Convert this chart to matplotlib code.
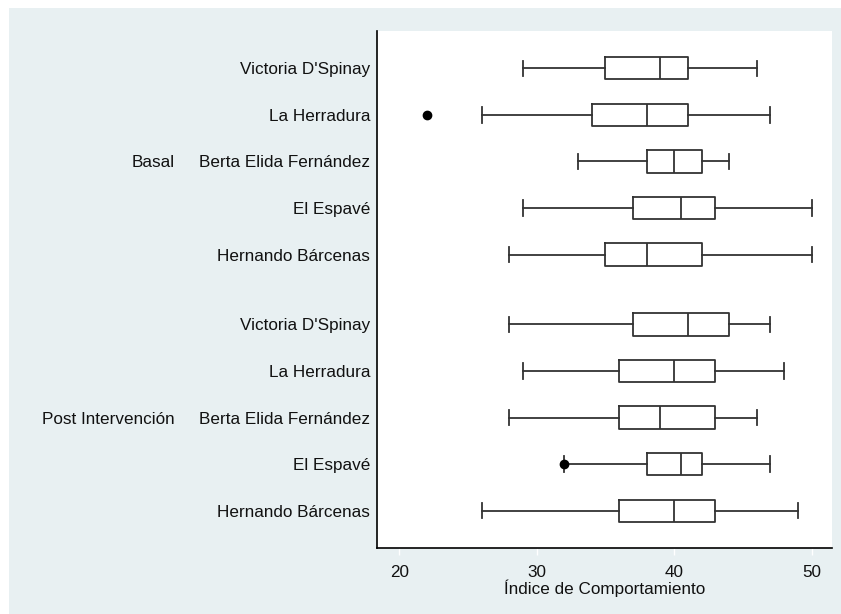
import matplotlib
matplotlib.use("Agg")
import matplotlib.pyplot as plt
from matplotlib.patches import Rectangle
from matplotlib.transforms import blended_transform_factory

plt.rcParams['font.family'] = ['Liberation Sans', 'DejaVu Sans']

groups = ["Basal", "Post Intervención"]
schools = ["Victoria D'Spinay", "La Herradura", "Berta Elida Fernández", "El Espavé", "Hernando Bárcenas"]

# per group, per school: whisker low, q1, median, q3, whisker high
basal_wlo = [29, 26, 33, 29, 28]
basal_q1 = [35, 34, 38, 37, 35]
basal_med = [39, 38, 40, 40.5, 38]
basal_q3 = [41, 41, 42, 43, 42]
basal_whi = [46, 47, 44, 50, 50]
basal_out = [[], [22], [], [], []]

post_wlo = [28, 29, 28, 32, 26]
post_q1 = [37, 36, 36, 38, 36]
post_med = [41, 40, 39, 40.5, 40]
post_q3 = [44, 43, 43, 42, 43]
post_whi = [47, 48, 46, 47, 49]
post_out = [[], [], [], [32], []]

xticks = [20, 30, 40, 50]
xlabel = "Índice de Comportamiento"

FS = 12.3
W, H = 841, 614
fig = plt.figure(figsize=(W / 100, H / 100), dpi=100)
fig.patch.set_facecolor("white")
bgc = "#E8F0F2"
fig.add_artist(Rectangle((9 / W, 0), 1 - 9 / W, (H - 8) / H, transform=fig.transFigure,
                         facecolor=bgc, edgecolor="none", zorder=0))
fig.text(80 / W, 1 + 8 / H, "y", fontsize=FS, ha="center", va="baseline", color="#111")

ax = fig.add_axes([377 / W, (H - 548) / H, (832 - 377) / W, (548 - 31) / H])
ax.set_facecolor("white")

stats = []
positions = []
labels = []
for gi, (wlo, q1, med, q3, whi, out) in enumerate([
        (basal_wlo, basal_q1, basal_med, basal_q3, basal_whi, basal_out),
        (post_wlo, post_q1, post_med, post_q3, post_whi, post_out)]):
    for si in range(len(schools)):
        stats.append(dict(whislo=wlo[si], q1=q1[si], med=med[si], q3=q3[si],
                          whishi=whi[si], fliers=out[si]))
        positions.append(gi * 5.5 + si)
        labels.append(schools[si])

lc = "#333333"
ax.bxp(stats, positions=positions, orientation="horizontal", widths=0.48,
       showfliers=True, capwidths=0.33,
       boxprops=dict(color=lc, linewidth=1.3),
       medianprops=dict(color=lc, linewidth=1.3),
       whiskerprops=dict(color=lc, linewidth=1.3),
       capprops=dict(color=lc, linewidth=1.3),
       flierprops=dict(marker="o", markerfacecolor="black", markeredgecolor="black",
                       markersize=6))

ax.set_ylim(10.3, -0.8)
ax.set_xlim(20 - (399.3 - 377) / 13.74, 20 + (832 - 399.3) / 13.74)
ax.set_yticks(positions)
ax.set_yticklabels(labels, fontsize=FS, color="#111")
for t in ax.get_yticklabels():
    t.set_verticalalignment("center_baseline")
ax.tick_params(axis="y", length=0, pad=5)
ax.set_xticks(xticks)
ax.set_xticklabels([str(t) for t in xticks], fontsize=FS, color="#111")
ax.tick_params(axis="x", length=5, width=1, color="white", pad=7)
ax.set_xlabel(xlabel, fontsize=FS, color="#111", labelpad=0)

for s in ["top", "right"]:
    ax.spines[s].set_visible(False)
for s in ["left", "bottom"]:
    ax.spines[s].set_color("black")
    ax.spines[s].set_linewidth(1.2)

# group labels, vertically centered on the middle school of each group
trans = blended_transform_factory(fig.transFigure, ax.transData)
for gi, g in enumerate(groups):
    ypos = gi * 5.5 + 2
    ax.text(175 / W, ypos, g, transform=trans,
            fontsize=FS, color="#111", ha="right", va="center_baseline")

fig.savefig("out.png", dpi=100, facecolor=fig.get_facecolor())
